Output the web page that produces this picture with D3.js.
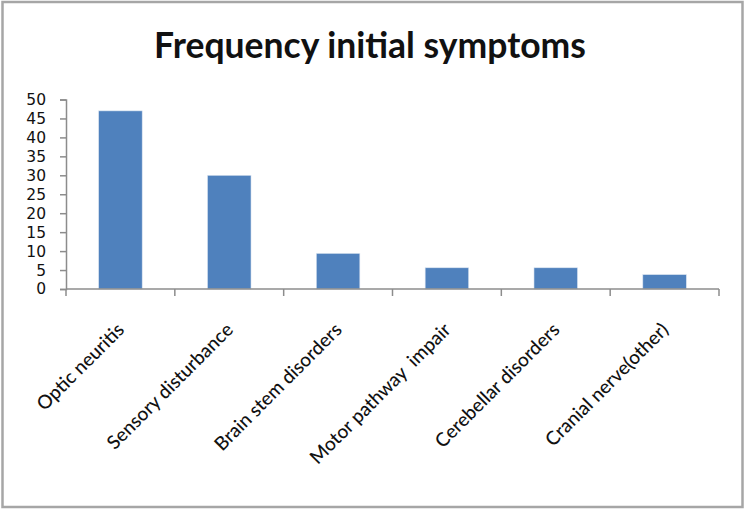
<!DOCTYPE html>
<html>
<head>
<meta charset="utf-8">
<script src="https://cdn.jsdelivr.net/npm/d3@7"></script>
<style>
  html, body { margin: 0; padding: 0; background: #fff; }
  svg { display: block; }
</style>
</head>
<body>
<div id="chart"></div>
<script>
const categories = ["Optic neuritis", "Sensory disturbance", "Brain stem disorders", "Motor pathway  impair", "Cerebellar disorders", "Cranial nerve(other)"];
const values = [47, 30, 9.4, 5.6, 5.6, 3.8];
const yTicks = [0, 5, 10, 15, 20, 25, 30, 35, 40, 45, 50];
const title = "Frequency initial symptoms";

const W = 746, H = 509;
const svg = d3.select("#chart").append("svg").attr("width", W).attr("height", H);

// outer frame
svg.append("rect").attr("x", 2.5).attr("y", 2).attr("width", 740).attr("height", 505)
  .attr("fill", "#fff").attr("stroke", "#a6a6a6").attr("stroke-width", 2.5);

const x = d3.scaleBand().domain(categories).range([66, 719]).padding(0);
const y = d3.scaleLinear().domain([0, 50]).range([289, 99.5]);

// title
svg.append("text").attr("x", 370).attr("y", 58).attr("text-anchor", "middle")
  .attr("font-family", "Lato, sans-serif").attr("font-weight", 700)
  .attr("font-size", 35.5).attr("fill", "#111").text(title);

// bars
const bw = x.bandwidth() * 0.4;
svg.append("g").selectAll("rect").data(values).join("rect")
  .attr("x", (d, i) => x(categories[i]) + x.bandwidth() / 2 - bw / 2)
  .attr("y", d => y(d))
  .attr("width", bw)
  .attr("height", d => y(0) - y(d))
  .attr("fill", "#4F81BD")
  .attr("stroke", "#dbe5f1").attr("stroke-width", 0.6);

const axisColor = "#8c8c8c";

// y axis
const yAxis = svg.append("g").attr("transform", "translate(66,0)")
  .call(d3.axisLeft(y).tickValues(yTicks).tickSize(6).tickPadding(14));
yAxis.select(".domain").attr("stroke", axisColor).attr("stroke-width", 1.5);
yAxis.selectAll(".tick line").attr("stroke", axisColor).attr("stroke-width", 1.5);
yAxis.selectAll(".tick text").attr("font-family", "'DejaVu Sans', sans-serif")
  .attr("font-size", 15.5).attr("fill", "#111");

// x axis: ticks at band boundaries
const xAxisG = svg.append("g").attr("transform", "translate(0,289)");
xAxisG.append("line").attr("x1", 66).attr("x2", 719).attr("y1", 0).attr("y2", 0)
  .attr("stroke", axisColor).attr("stroke-width", 1.5);
const bounds = categories.map(c => x(c)).concat([x.range()[1]]);
xAxisG.selectAll("line.tk").data(bounds).join("line").attr("class", "tk")
  .attr("x1", d => d).attr("x2", d => d).attr("y1", 0).attr("y2", 7)
  .attr("stroke", axisColor).attr("stroke-width", 1.5);

// x labels rotated -45
svg.append("g").selectAll("text").data(categories).join("text")
  .attr("transform", d => `translate(${x(d) + x.bandwidth() / 2 + 5},331) rotate(-45)`)
  .attr("text-anchor", "end")
  .attr("font-family", "Lato, sans-serif")
  .attr("font-size", 19).attr("font-weight", 500).attr("fill", "#111")
  .attr("xml:space", "preserve").style("white-space", "pre")
  .text(d => d);
</script>
</body>
</html>
